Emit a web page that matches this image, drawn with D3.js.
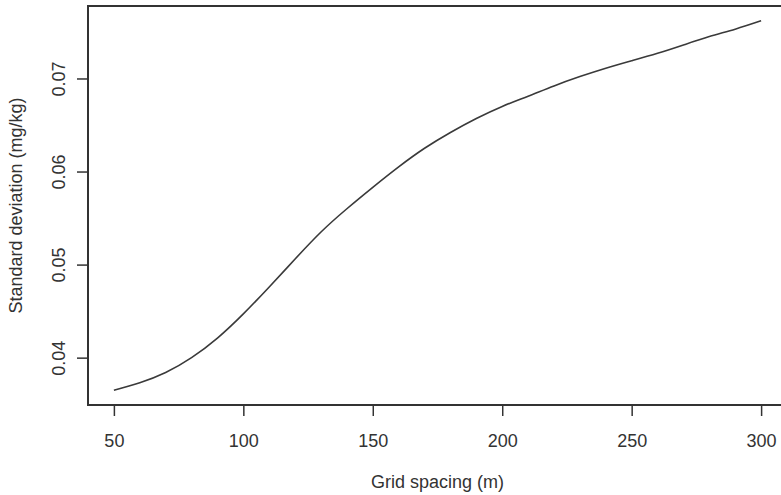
<!DOCTYPE html>
<html>
<head>
<meta charset="utf-8">
<script src="https://cdn.jsdelivr.net/npm/d3@7"></script>
<style>
  body { margin: 0; background: #fff; }
  svg { display: block; font-family: "Liberation Sans", Arial, sans-serif; }
  .tick text { fill: #333; font-size: 18px; }
</style>
</head>
<body>
<div id="chart"></div>
<script>
// grid spacing (m) and the standard deviation
const spacing = [50, 60, 70, 80, 90, 100, 110, 120, 130, 140, 150, 160, 170, 180, 190,
                 200, 210, 220, 230, 240, 250, 260, 270, 280, 290, 300];
const stdDev = [0.0365, 0.0373, 0.0384, 0.0400, 0.0421, 0.0447, 0.0476, 0.0506, 0.0535, 0.0560,
                0.0583, 0.0605, 0.0625, 0.0642, 0.0657, 0.0670, 0.0681, 0.0692, 0.0702, 0.0711,
                0.0719, 0.0727, 0.0736, 0.0745, 0.0753, 0.0762];
const xTicks = [50, 100, 150, 200, 250, 300];
const yTicks = [0.04, 0.05, 0.06, 0.07];

const width = 781, height = 495;
const plotL = 88, plotR = 787, plotT = 6, plotB = 405;

// R style limits: data range padded by 4% on each side
function pad(ext) {
    const d = (ext[1] - ext[0]) * 0.04;
    return [ext[0] - d, ext[1] + d];
}

const x = d3.scaleLinear().domain(pad(d3.extent(spacing))).range([plotL, plotR]);
const y = d3.scaleLinear().domain(pad(d3.extent(stdDev))).range([plotB, plotT]);

const svg = d3.select('#chart').append('svg')
    .attr('width', width)
    .attr('height', height);

const xAxis = svg.append('g')
    .attr('transform', `translate(0,${plotB})`)
    .call(d3.axisBottom(x).tickValues(xTicks).tickSize(11).tickSizeOuter(0).tickFormat(d3.format('d')));
xAxis.select('.domain').remove();
xAxis.selectAll('.tick line').attr('stroke', '#333').attr('stroke-width', 1.5);
xAxis.selectAll('.tick text').attr('y', 42).attr('dy', 0);

const yAxis = svg.append('g')
    .attr('transform', `translate(${plotL},0)`)
    .call(d3.axisLeft(y).tickValues(yTicks).tickSize(11).tickSizeOuter(0).tickFormat(d3.format('.2f')));
yAxis.select('.domain').remove();
yAxis.selectAll('.tick line').attr('stroke', '#333').attr('stroke-width', 1.5);
yAxis.selectAll('.tick text')
    .attr('x', 0).attr('dy', 0)
    .attr('text-anchor', 'middle')
    .attr('transform', 'translate(-23,0) rotate(-90)');

// plot frame
svg.append('rect')
    .attr('x', plotL).attr('y', plotT)
    .attr('width', plotR - plotL).attr('height', plotB - plotT)
    .attr('fill', 'none')
    .attr('stroke', '#333')
    .attr('stroke-width', 2);

const line = d3.line()
    .x((d, i) => x(spacing[i]))
    .y(d => y(d))
    .curve(d3.curveNatural);

svg.append('path')
    .datum(stdDev)
    .attr('fill', 'none')
    .attr('stroke', '#3a3a3a')
    .attr('stroke-width', 1.6)
    .attr('d', line);

svg.append('text')
    .attr('x', (plotL + plotR) / 2)
    .attr('y', 488)
    .attr('text-anchor', 'middle')
    .attr('fill', '#333')
    .style('font-size', '18px')
    .text('Grid spacing (m)');

svg.append('text')
    .attr('transform', `translate(22,${(plotT + plotB) / 2}) rotate(-90)`)
    .attr('text-anchor', 'middle')
    .attr('fill', '#333')
    .style('font-size', '18px')
    .text('Standard deviation (mg/kg)');
</script>
</body>
</html>
